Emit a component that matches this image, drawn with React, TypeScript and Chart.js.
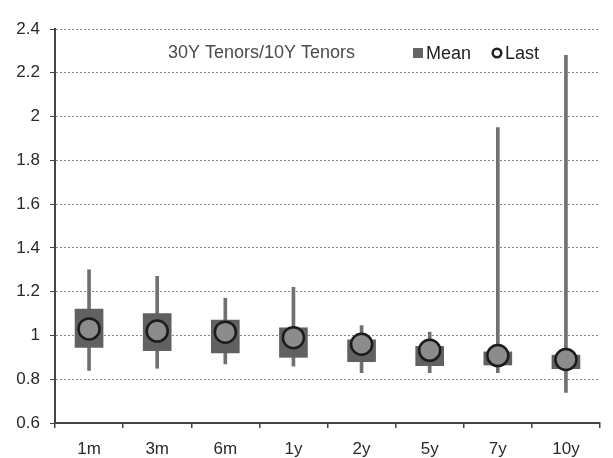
import React, { useEffect, useRef } from "react";
import { Chart, registerables } from "chart.js";

Chart.register(...registerables);

const categories = ["1m", "3m", "6m", "1y", "2y", "5y", "7y", "10y"];
const maxVals = [1.3, 1.27, 1.17, 1.22, 1.045, 1.015, 1.95, 2.28];
const minVals = [0.84, 0.85, 0.87, 0.86, 0.83, 0.83, 0.83, 0.74];
const boxHigh = [1.12, 1.1, 1.07, 1.035, 0.98, 0.95, 0.925, 0.91];
const boxLow = [0.945, 0.93, 0.92, 0.9, 0.88, 0.862, 0.865, 0.848];
const lastVals = [1.03, 1.02, 1.015, 0.99, 0.96, 0.932, 0.908, 0.89];
const yTicks = { min: 0.6, max: 2.4, step: 0.2 };
const chartTitle = "30Y Tenors/10Y Tenors";

const FONT = "'Liberation Sans', Arial, sans-serif";

const overlayPlugin = {
  id: "overlay",
  afterDraw(chart: any) {
    const ctx = chart.ctx;
    const ca = chart.chartArea;
    const cy = ca.top + 24;
    ctx.save();
    ctx.textBaseline = "middle";
    ctx.textAlign = "left";
    ctx.font = `18px ${FONT}`;
    ctx.fillStyle = "#4a4a4a";
    ctx.fillText(chartTitle, ca.left + 113, cy);

    const meanLabel = chart.data.datasets[1].label;
    const lastLabel = chart.data.datasets[2].label;
    ctx.font = `18px ${FONT}`;
    // Mean marker
    let x = ca.left + 358;
    ctx.fillStyle = "#666";
    ctx.fillRect(x, cy - 5, 10, 10);
    ctx.fillStyle = "#222";
    ctx.fillText(meanLabel, x + 13, cy + 1);
    // Last marker
    x = ca.left + 442;
    ctx.beginPath();
    ctx.arc(x, cy, 4.3, 0, Math.PI * 2);
    ctx.lineWidth = 2.5;
    ctx.strokeStyle = "#222";
    ctx.stroke();
    ctx.fillText(lastLabel, x + 8, cy + 1);
    ctx.restore();
  },
};

export default function App() {
  const ref = useRef<HTMLCanvasElement>(null);
  useEffect(() => {
    if (!ref.current) return;
    const chart = new Chart(ref.current, {
      type: "bar",
      data: {
        labels: categories,
        datasets: [
          {
            type: "bar",
            label: "Range",
            data: categories.map((_, i) => [minVals[i], maxVals[i]]),
            backgroundColor: "#707070",
            barThickness: 3,
            grouped: false,
            order: 3,
          } as any,
          {
            type: "bar",
            label: "Mean",
            data: categories.map((_, i) => [boxLow[i], boxHigh[i]]),
            backgroundColor: "#616161",
            barThickness: 28,
            grouped: false,
            order: 2,
          } as any,
          {
            type: "line",
            label: "Last",
            data: lastVals,
            showLine: false,
            pointRadius: 10.5,
            pointBackgroundColor: "#8c8c8c",
            pointBorderColor: "#1c1c1c",
            pointBorderWidth: 2.5,
            order: 1,
          } as any,
        ],
      },
      options: {
        animation: false,
        responsive: false,
        maintainAspectRatio: false,
        layout: { padding: { top: 29, right: 7, left: 0, bottom: 0 } },
        plugins: { legend: { display: false }, tooltip: { enabled: false } },
        scales: {
          x: {
            type: "category",
            offset: true,
            grid: {
              display: true,
              drawOnChartArea: false,
              drawTicks: true,
              tickLength: 5,
              offset: true,
              tickColor: "#444",
              lineWidth: 1.5,
            },
            border: { display: true, color: "#444", width: 2 },
            ticks: {
              color: "#2a2a2a",
              font: { family: FONT, size: 17 },
              padding: 11,
            },
            afterFit: (s: any) => {
              s.height = 35;
            },
          },
          y: {
            min: yTicks.min,
            max: yTicks.max,
            ticks: {
              stepSize: yTicks.step,
              color: "#2a2a2a",
              font: { family: FONT, size: 17 },
              padding: 10,
              callback: (v: any) => String(Number(Number(v).toFixed(1))),
            },
            grid: {
              color: "#888",
              lineWidth: 1,
              drawTicks: true,
              tickLength: 5,
              tickColor: "#444",
            },
            border: { display: true, color: "#444", width: 2, dash: [2, 2] },
            afterFit: (s: any) => {
              s.width = 55;
            },
          },
        },
      },
      plugins: [overlayPlugin],
    });
    return () => chart.destroy();
  }, []);
  return (
    <div style={{ position: "absolute", left: 0, top: 0, width: 613, height: 458, background: "#fff" }}>
      <canvas ref={ref} width={613} height={458} style={{ width: 613, height: 458 }} />
    </div>
  );
}
